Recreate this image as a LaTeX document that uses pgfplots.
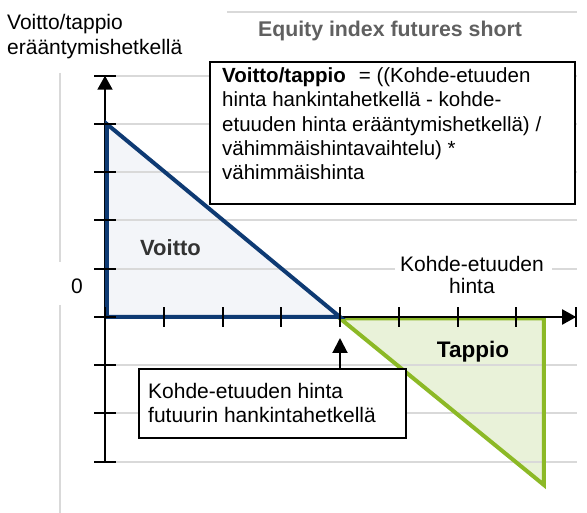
\documentclass[border=0pt]{standalone}
\usepackage{pgfplots}
\pgfplotsset{compat=1.18}
\usepackage{fontspec}
\setmainfont{Liberation Sans}
\usetikzlibrary{arrows.meta}
\definecolor{gridc}{RGB}{217,217,217}
\definecolor{blueline}{RGB}{14,58,115}
\definecolor{bluefill}{RGB}{243,245,249}
\definecolor{greenline}{RGB}{140,185,38}
\definecolor{greenfill}{RGB}{233,242,217}
\definecolor{titlegray}{RGB}{96,96,96}
\definecolor{labgray}{RGB}{51,51,51}
\begin{document}
\begin{tikzpicture}
\begin{axis}[at={(0,0)}, anchor=south west, scale only axis,
  width=587bp, height=513bp,
  xmin=-1.78723, xmax=8.20426, ymin=-4.06218, ymax=6.56995,
  hide axis, clip=false, no markers]
% areas
\addplot[fill=bluefill, draw=none, forget plot] coordinates {(0,0) (0,4) (4,0)} -- cycle;
\addplot[fill=greenfill, draw=none, forget plot] coordinates {(4,0) (7.47,0) (7.47,-3.48)} -- cycle;
% grid lines
\pgfplotsinvokeforeach{-3,...,5}{
  \addplot[gridc, line width=2bp, forget plot] coordinates {(0,#1) (8.03,#1)};
}
% green outline
\addplot[greenline, line width=4bp, forget plot] coordinates {(4,-0.03) (7.47,-0.03) (7.47,-3.48)} -- cycle;
% axes
\draw[black, line width=2bp, -{Triangle[length=14bp,width=15bp]}] (axis cs:0,0) -- (axis cs:8.02,0);
\draw[black, line width=2bp, -{Triangle[length=14bp,width=15bp]}] (axis cs:0,-3) -- (axis cs:0,5);
% blue outline
\addplot[blueline, line width=4bp, forget plot] coordinates {(0.03,0) (0.03,4) (4,0)} -- cycle;
% ticks
\pgfplotsinvokeforeach{0,...,7}{
  \draw[black, line width=2bp] (axis cs:#1,-0.207) -- (axis cs:#1,0.207);
}
\draw[black, line width=2bp] (axis cs:8.02,-0.207) -- (axis cs:8.02,0.207);
\pgfplotsinvokeforeach{-3,...,5}{
  \draw[black, line width=2bp] (axis cs:-0.179,#1) -- (axis cs:0.179,#1);
}
\end{axis}
\begin{scope}[x=1bp, y=1bp]
\fontsize{21bp}{25bp}\selectfont
% decorative grey lines
\draw[gridc, line width=2bp] (227,501) -- (577,501);
\draw[gridc, line width=2bp] (60,440) -- (60,251);
\draw[gridc, line width=2bp] (60,208) -- (60,0);
% top-left label
\node[anchor=base west, inner sep=0pt, font=\fontsize{21bp}{25bp}\selectfont] at (7,483) {Voitto/tappio};
\node[anchor=base west, inner sep=0pt, font=\fontsize{21bp}{25bp}\selectfont] at (7,458) {erääntymishetkellä};
% title
\node[anchor=base, inner sep=0pt, text=titlegray, font=\fontsize{21.3bp}{25bp}\selectfont\bfseries] at (390,476) {Equity index futures short};
% formula box
\draw[black, line width=1.5bp, fill=white] (210,451) rectangle (575,309);
\node[anchor=base west, inner sep=0pt, font=\fontsize{20.5bp}{24bp}\selectfont] at (222,430) {\textbf{Voitto/tappio}\hspace{13bp}= ((Kohde-etuuden};
\node[anchor=base west, inner sep=0pt, font=\fontsize{20.5bp}{24bp}\selectfont] at (222,406) {hinta hankintahetkellä - kohde-};
\node[anchor=base west, inner sep=0pt, font=\fontsize{20.5bp}{24bp}\selectfont] at (222,382) {etuuden hinta erääntymishetkellä) /};
\node[anchor=base west, inner sep=0pt, font=\fontsize{20.5bp}{24bp}\selectfont] at (222,358) {vähimmäishintavaihtelu) *};
\node[anchor=base west, inner sep=0pt, font=\fontsize{20.5bp}{24bp}\selectfont] at (222,334) {vähimmäishinta};
% Voitto label
\node[anchor=base west, inner sep=0pt, text=labgray, font=\fontsize{22bp}{25bp}\selectfont\bfseries] at (140,258) {Voitto};
% x label with white background
\fill[white] (395,236) rectangle (552,252);
\node[anchor=base, inner sep=0pt, font=\fontsize{21bp}{25bp}\selectfont] at (472,242) {Kohde-etuuden};
\node[anchor=base, inner sep=0pt, font=\fontsize{21bp}{25bp}\selectfont] at (472,220) {hinta};
% zero label
\node[anchor=base, inner sep=0pt, font=\fontsize{21bp}{25bp}\selectfont] at (77,220) {0};
% Tappio label
\node[anchor=base, inner sep=0pt, font=\fontsize{22.5bp}{25bp}\selectfont\bfseries] at (473,156) {Tappio};
% purchase price box
\draw[black, line width=2bp, -{Triangle[length=15bp,width=15bp]}] (340,144) -- (340,175);
\draw[black, line width=1.5bp, fill=white] (139,144) rectangle (406,75);
\node[anchor=base west, inner sep=0pt, font=\fontsize{21bp}{25bp}\selectfont] at (148,115) {Kohde-etuuden hinta};
\node[anchor=base west, inner sep=0pt, font=\fontsize{21bp}{25bp}\selectfont] at (148,91) {futuurin hankintahetkellä};
\end{scope}
\pgfresetboundingbox
\path (0,0) rectangle (587bp,513bp);
\end{tikzpicture}
\end{document}
